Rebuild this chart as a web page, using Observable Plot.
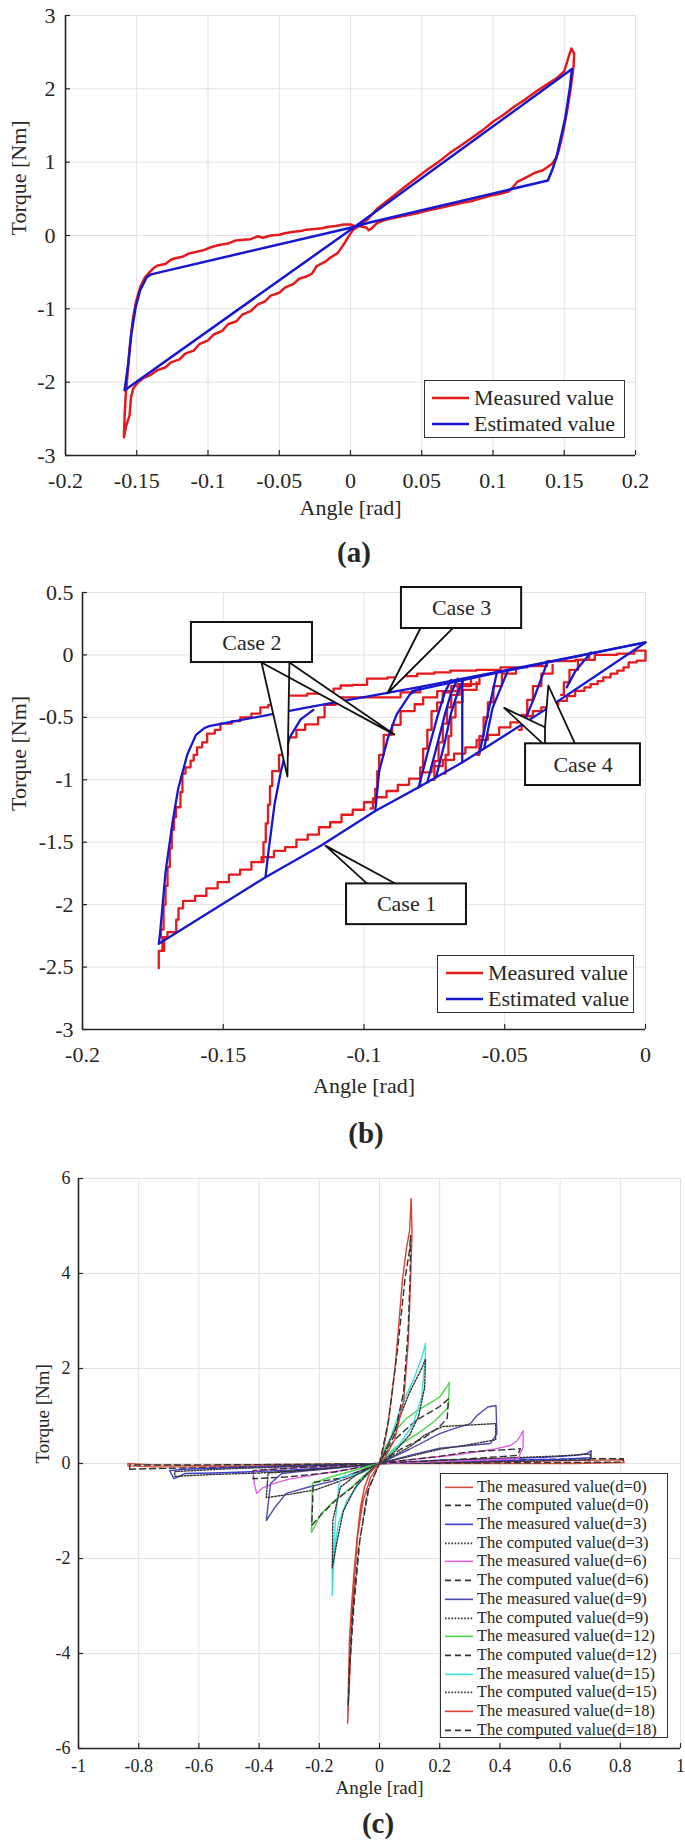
<!DOCTYPE html>
<html><head><meta charset="utf-8">
<script src="https://cdn.jsdelivr.net/npm/d3@7"></script>
<script src="https://cdn.jsdelivr.net/npm/@observablehq/plot@0.6"></script>
<style>
body{margin:0;background:#fff;}
#root{position:relative;width:685px;height:1840px;font-family:"Liberation Serif","DejaVu Serif",serif;color:#262626;overflow:hidden;}
.panel{position:absolute;left:0;}
.cap{position:absolute;font-weight:bold;font-size:29px;transform:translate(-50%,-50%);white-space:nowrap;}
.legend{position:absolute;background:#fff;border:1.6px solid #333;box-sizing:border-box;}
.row{position:absolute;left:0;white-space:nowrap;}
.row svg{position:absolute;top:0;}
.row span{position:absolute;top:0;}
</style></head><body><div id="root"></div>
<script>
// ---------------- tick values ----------------
const aXTicks = [-0.2,-0.15,-0.1,-0.05,0,0.05,0.1,0.15,0.2];
const aYTicks = [-3,-2,-1,0,1,2,3];
const bXTicks = [-0.2,-0.15,-0.1,-0.05,0];
const bYTicks = [-3,-2.5,-2,-1.5,-1,-0.5,0,0.5];
const cXTicks = [-1,-0.8,-0.6,-0.4,-0.2,0,0.2,0.4,0.6,0.8,1];
const cYTicks = [-6,-4,-2,0,2,4,6];

// ---------------- panel (a) ----------------
const aEstimated = [[-0.1585,-2.11],[-0.1560,-1.75],[-0.1538,-1.34],[-0.1508,-0.98],[-0.1477,-0.75],[-0.1430,-0.57],[-0.1400,-0.53],[0.0030,0.12],[0.1554,2.27],[0.1540,2.02],[0.1508,1.61],[0.1446,1.07],[0.1415,0.89],[0.1385,0.75],[0.0120,0.17],[0.0030,0.12],[-0.1585,-2.11]];
const aMeasured = [[-0.1590,-2.75],[-0.1585,-2.45],[-0.1578,-2.20],[-0.1565,-1.90],[-0.1548,-1.50],[-0.1528,-1.15],[-0.1505,-0.90],[-0.1475,-0.70],[-0.1445,-0.58],[-0.1410,-0.50],[-0.1380,-0.44],[-0.1354,-0.41],[-0.1300,-0.39],[-0.1260,-0.33],[-0.1230,-0.31],[-0.1180,-0.29],[-0.1140,-0.25],[-0.1077,-0.22],[-0.1030,-0.20],[-0.0980,-0.16],[-0.0923,-0.13],[-0.0860,-0.11],[-0.0810,-0.07],[-0.0770,-0.06],[-0.0700,-0.05],[-0.0650,-0.01],[-0.0615,-0.03],[-0.0560,0.00],[-0.0500,0.01],[-0.0460,0.03],[-0.0400,0.05],[-0.0350,0.06],[-0.0308,0.08],[-0.0250,0.09],[-0.0200,0.10],[-0.0154,0.12],[-0.0100,0.13],[-0.0050,0.15],[0.0000,0.15],[0.0040,0.12],[0.0080,0.17],[0.0120,0.22],[0.0185,0.36],[0.0250,0.46],[0.0308,0.55],[0.0380,0.66],[0.0460,0.78],[0.0540,0.90],[0.0615,1.00],[0.0700,1.13],[0.0770,1.22],[0.0850,1.33],[0.0923,1.43],[0.1000,1.55],[0.1077,1.65],[0.1150,1.76],[0.1230,1.86],[0.1300,1.96],[0.1385,2.07],[0.1450,2.15],[0.1500,2.24],[0.1525,2.40],[0.1550,2.55],[0.1570,2.48],[0.1565,2.30],[0.1545,2.00],[0.1520,1.70],[0.1490,1.39],[0.1460,1.15],[0.1440,1.05],[0.1415,0.98],[0.1380,0.93],[0.1350,0.89],[0.1300,0.86],[0.1260,0.82],[0.1220,0.78],[0.1170,0.73],[0.1140,0.66],[0.1110,0.60],[0.1050,0.57],[0.1000,0.55],[0.0923,0.51],[0.0850,0.47],[0.0770,0.44],[0.0700,0.41],[0.0615,0.37],[0.0540,0.34],[0.0460,0.30],[0.0380,0.27],[0.0308,0.24],[0.0240,0.21],[0.0185,0.17],[0.0150,0.10],[0.0130,0.07],[0.0110,0.11],[0.0060,0.13],[0.0020,0.08],[-0.0010,0.00],[-0.0040,-0.10],[-0.0090,-0.24],[-0.0140,-0.30],[-0.0180,-0.36],[-0.0240,-0.42],[-0.0270,-0.52],[-0.0310,-0.56],[-0.0360,-0.59],[-0.0400,-0.66],[-0.0460,-0.71],[-0.0500,-0.78],[-0.0560,-0.82],[-0.0600,-0.90],[-0.0650,-0.94],[-0.0700,-1.03],[-0.0760,-1.08],[-0.0800,-1.17],[-0.0860,-1.21],[-0.0900,-1.30],[-0.0960,-1.35],[-0.1000,-1.43],[-0.1060,-1.48],[-0.1100,-1.57],[-0.1160,-1.61],[-0.1200,-1.69],[-0.1260,-1.73],[-0.1300,-1.80],[-0.1360,-1.84],[-0.1400,-1.90],[-0.1450,-1.94],[-0.1490,-2.00],[-0.1523,-2.08],[-0.1540,-2.20],[-0.1550,-2.45],[-0.1575,-2.60],[-0.1590,-2.75]];

// ---------------- panel (b) ----------------
const bEstMain = [[-0.1729,-2.314],[-0.1724,-2.22],[-0.1705,-1.74],[-0.168,-1.34],[-0.166,-1.07],[-0.1628,-0.80],[-0.1597,-0.64],[-0.1566,-0.585],[-0.155,-0.57],[-0.12,-0.42],[-0.08,-0.256],[-0.04,-0.08],[0,0.1],[-0.0357,-0.44],[-0.065,-0.86],[-0.0806,-1.06],[-0.096,-1.25],[-0.1155,-1.53],[-0.135,-1.78],[-0.1729,-2.314]];
const bEstCase2a = [[-0.135,-1.78],[-0.1341,-1.605],[-0.1318,-1.2],[-0.1295,-0.93],[-0.1264,-0.66],[-0.1225,-0.516],[-0.118,-0.44]];
const bEstCase2b = [[-0.096,-1.25],[-0.0946,-0.93],[-0.0915,-0.664],[-0.0884,-0.476],[-0.0837,-0.315],[-0.0798,-0.26]];
const bEstTop2 = [[-0.083,-0.29],[-0.05,-0.13],[0,0.1]];
const bEstCase4a = [[-0.0806,-1.06],[-0.077,-0.75],[-0.074,-0.5],[-0.0713,-0.30],[-0.0690,-0.20]];
const bEstCase4b = [[-0.0775,-1.02],[-0.0740,-0.72],[-0.0713,-0.48],[-0.0690,-0.30],[-0.0667,-0.19]];
const bEstCase4c = [[-0.0744,-0.98],[-0.0713,-0.70],[-0.0690,-0.46],[-0.0667,-0.30],[-0.0645,-0.19]];
const bEstCase4d = [[-0.0651,-0.86],[-0.0651,-0.20]];
const bEstCase4e = [[-0.0589,-0.78],[-0.0558,-0.45],[-0.0527,-0.13]];
const bEstCase4f = [[-0.0573,-0.745],[-0.0543,-0.422],[-0.0488,-0.12]];
const bEstCase4g = [[-0.0434,-0.556],[-0.0395,-0.34],[-0.0349,-0.06]];
const bEstCase4h = [[-0.028,-0.26],[-0.0248,-0.126],[-0.0194,0.02]];

const bMeasMain = [[-0.1729,-2.51],[-0.1729,-2.37],[-0.1716,-2.37],[-0.1716,-2.26],[-0.1722,-2.2],[-0.1712,-2.0],[-0.1705,-1.85],[-0.1698,-1.70],[-0.1690,-1.55],[-0.1683,-1.40],[-0.1675,-1.30],[-0.1668,-1.22],[-0.1652,-1.10],[-0.1645,-0.95],[-0.1634,-0.90],[-0.1616,-0.846],[-0.1605,-0.80],[-0.1593,-0.74],[-0.1575,-0.70],[-0.1557,-0.63],[-0.1530,-0.60],[-0.1510,-0.55],[-0.1470,-0.53],[-0.1439,-0.50],[-0.1400,-0.47],[-0.1368,-0.42],[-0.1340,-0.40],[-0.1320,-0.366],[-0.1290,-0.35],[-0.1273,-0.326],[-0.1202,-0.31],[-0.1150,-0.30],[-0.1108,-0.27],[-0.1083,-0.245],[-0.1040,-0.24],[-0.0989,-0.19],[-0.0917,-0.18],[-0.0860,-0.17],[-0.0811,-0.15],[-0.0750,-0.14],[-0.0693,-0.125],[-0.0600,-0.12],[-0.0515,-0.10],[-0.0420,-0.09],[-0.0350,-0.05],[-0.0250,-0.04],[-0.0180,0.0],[-0.0100,0.01],[-0.0040,0.035],[0,0.035],[0,-0.046],[-0.0031,-0.06],[-0.0060,-0.10],[-0.0078,-0.126],[-0.0100,-0.15],[-0.0124,-0.18],[-0.0150,-0.21],[-0.0170,-0.234],[-0.0195,-0.26],[-0.0217,-0.288],[-0.0250,-0.33],[-0.0279,-0.368],[-0.0310,-0.40],[-0.0340,-0.42],[-0.0370,-0.45],[-0.0400,-0.49],[-0.0440,-0.54],[-0.0480,-0.58],[-0.0520,-0.64],[-0.0560,-0.68],[-0.0600,-0.74],[-0.0640,-0.79],[-0.0680,-0.84],[-0.0720,-0.89],[-0.0760,-0.94],[-0.0800,-0.99],[-0.0840,-1.04],[-0.0880,-1.09],[-0.0920,-1.14],[-0.0960,-1.18],[-0.1000,-1.24],[-0.1040,-1.28],[-0.1080,-1.34],[-0.1120,-1.38],[-0.1160,-1.44],[-0.1200,-1.48],[-0.1240,-1.54],[-0.1280,-1.57],[-0.1320,-1.62],[-0.1364,-1.66],[-0.1400,-1.72],[-0.1440,-1.76],[-0.1480,-1.82],[-0.1520,-1.87],[-0.1560,-1.93],[-0.1600,-1.97],[-0.1643,-2.03],[-0.1659,-2.12],[-0.1667,-2.22],[-0.1698,-2.26],[-0.1710,-2.37],[-0.1729,-2.51]];
const bMeasCase2a = [[-0.1364,-1.66],[-0.1357,-1.50],[-0.1349,-1.35],[-0.1341,-1.2],[-0.1334,-1.05],[-0.1326,-0.93],[-0.1302,-0.80],[-0.1270,-0.66],[-0.1240,-0.60],[-0.1209,-0.556],[-0.1163,-0.50],[-0.1140,-0.40],[-0.1100,-0.34],[-0.1002,-0.34],[-0.0870,-0.30],[-0.0800,-0.27]];
const bMeasCase2b = [[-0.0977,-1.23],[-0.0968,-1.15],[-0.0960,-1.07],[-0.0953,-0.93],[-0.0946,-0.80],[-0.0930,-0.64],[-0.0900,-0.56],[-0.0870,-0.45],[-0.0820,-0.395],[-0.0790,-0.34],[-0.0740,-0.29],[-0.0667,-0.234],[-0.0590,-0.19]];
const bMeasCase4a = [[-0.0806,-1.05],[-0.0800,-0.90],[-0.0790,-0.75],[-0.0775,-0.60],[-0.0760,-0.45],[-0.0740,-0.38],[-0.0720,-0.30],[-0.0690,-0.25],[-0.0650,-0.20]];
const bMeasCase4b = [[-0.0760,-1.00],[-0.0750,-0.85],[-0.0735,-0.70],[-0.0720,-0.55],[-0.0705,-0.42],[-0.0690,-0.32],[-0.0660,-0.25],[-0.0620,-0.20]];
const bMeasCase4c = [[-0.0720,-0.95],[-0.0710,-0.80],[-0.0700,-0.65],[-0.0690,-0.50],[-0.0675,-0.38],[-0.0650,-0.28],[-0.0600,-0.22]];
const bMeasCase4d = [[-0.0600,-0.80],[-0.0590,-0.65],[-0.0575,-0.50],[-0.0560,-0.38],[-0.0540,-0.25],[-0.0510,-0.15],[-0.0460,-0.12]];
const bMeasCase4e = [[-0.0450,-0.60],[-0.0440,-0.48],[-0.0420,-0.36],[-0.0400,-0.25],[-0.0370,-0.15],[-0.0330,-0.08]];
const bMeasCase4f = [[-0.0300,-0.32],[-0.0290,-0.22],[-0.0270,-0.12],[-0.0240,-0.04],[-0.0200,0.0]];

// annotation callouts (data units)
const caseLabels = ["Case 1","Case 2","Case 3","Case 4"];
const caseBoxX1 = [-0.1062,-0.1613,-0.0867,-0.0426];
const caseBoxX2 = [-0.0636,-0.1183,-0.0440,-0.0018];
const caseBoxY1 = [-2.16,-0.0609,0.2115,-1.046];
const caseBoxY2 = [-1.834,0.2596,0.54,-0.712];
const casePointers = {
  c1: [[-0.0988,-1.834],[-0.1137,-1.527],[-0.0886,-1.834]],
  c2a: [[-0.1364,-0.0609],[-0.1272,-0.974],[-0.1265,-0.0609]],
  c2b: [[-0.1364,-0.0609],[-0.0892,-0.638],[-0.1265,-0.0609]],
  c3: [[-0.0800,0.2115],[-0.0917,-0.309],[-0.0686,0.2115]],
  c4a: [[-0.0357,-0.726],[-0.0502,-0.424],[-0.0357,-0.579],[-0.0357,-0.726]],
  c4b: [[-0.0357,-0.579],[-0.0345,-0.245],[-0.0250,-0.712]]
};

// ---------------- panel (c) ----------------
const c_m0 = [[-0.836,0.0],[-0.75,-0.03],[-0.6,-0.04],[-0.45,-0.03],[-0.3,-0.02],[-0.15,-0.01],[0,0],[0.15,0.02],[0.3,0.03],[0.5,0.05],[0.65,0.06],[0.81,0.08],[0.813,0.02],[0.65,0.0],[0.45,0.0],[0.25,0.0],[0,0],[-0.2,-0.04],[-0.4,-0.06],[-0.6,-0.07],[-0.75,-0.07],[-0.836,-0.05],[-0.836,0.0]];
const c_c0 = [[-0.83,-0.12],[-0.7,-0.1],[-0.5,-0.08],[-0.3,-0.05],[0,0],[0.3,0.05],[0.5,0.08],[0.7,0.1],[0.81,0.1],[0.81,0.03],[0.6,0.02],[0.3,0.01],[0,0],[-0.3,-0.02],[-0.6,-0.03],[-0.83,-0.03],[-0.83,-0.12]];
const c_m3 = [[0,0],[0.2,0.07],[0.4,0.1],[0.55,0.13],[0.65,0.17],[0.69,0.21],[0.703,0.27],[0.703,0.12],[0.6,0.09],[0.4,0.06],[0.2,0.03],[0,0],[-0.2,-0.04],[-0.4,-0.07],[-0.55,-0.1],[-0.65,-0.12],[-0.697,-0.15],[-0.683,-0.32],[-0.665,-0.27],[-0.646,-0.21],[-0.55,-0.2],[-0.45,-0.18],[-0.3,-0.14],[-0.15,-0.08],[0,0]];
const c_c3 = [[0,0],[0.2,0.06],[0.4,0.11],[0.6,0.16],[0.7,0.2],[0.7,0.08],[0.5,0.05],[0.25,0.02],[0,0],[-0.25,-0.06],[-0.5,-0.11],[-0.68,-0.17],[-0.68,-0.27],[-0.55,-0.23],[-0.4,-0.2],[-0.2,-0.12],[0,0]];
const c_m6 = [[0,0],[0.1,0.08],[0.25,0.18],[0.38,0.3],[0.435,0.38],[0.457,0.48],[0.468,0.58],[0.477,0.69],[0.477,0.34],[0.46,0.1],[0.3,0.06],[0.15,0.03],[0,0],[-0.15,-0.06],[-0.3,-0.1],[-0.4,-0.14],[-0.42,-0.18],[-0.415,-0.45],[-0.408,-0.63],[-0.39,-0.52],[-0.35,-0.42],[-0.3,-0.33],[-0.2,-0.22],[-0.1,-0.12],[0,0]];
const c_c6 = [[0,0],[0.1,0.08],[0.2,0.15],[0.29,0.24],[0.468,0.31],[0.462,0.22],[0.457,0.17],[0.3,0.1],[0.15,0.05],[0,0],[-0.15,-0.18],[-0.3,-0.28],[-0.42,-0.32],[-0.42,-0.15],[-0.3,-0.1],[-0.15,-0.05],[0,0]];
const c_m9 = [[0,0],[0.05,0.15],[0.1,0.3],[0.2,0.63],[0.25,0.74],[0.302,0.84],[0.324,1.01],[0.36,1.19],[0.387,1.22],[0.39,0.63],[0.368,0.42],[0.3,0.38],[0.2,0.32],[0.1,0.17],[0,0],[-0.063,-0.05],[-0.15,-0.1],[-0.25,-0.16],[-0.325,-0.21],[-0.362,-0.42],[-0.376,-1.2],[-0.347,-0.92],[-0.31,-0.63],[-0.238,-0.5],[-0.15,-0.36],[-0.063,-0.15],[0,0]];
const c_c9 = [[0,0],[0.1,0.35],[0.15,0.6],[0.21,0.78],[0.3,0.81],[0.386,0.84],[0.386,0.5],[0.3,0.4],[0.2,0.3],[0.1,0.15],[0,0],[-0.1,-0.06],[-0.2,-0.12],[-0.3,-0.17],[-0.37,-0.2],[-0.376,-0.72],[-0.3,-0.65],[-0.21,-0.55],[-0.1,-0.3],[0,0]];
const c_m12 = [[0,0],[0.02,0.35],[0.053,0.7],[0.09,0.95],[0.127,1.12],[0.17,1.28],[0.2,1.4],[0.222,1.6],[0.232,1.71],[0.229,1.19],[0.185,0.9],[0.127,0.63],[0.053,0.34],[0,0],[-0.06,-0.1],[-0.121,-0.21],[-0.17,-0.3],[-0.209,-0.39],[-0.223,-0.42],[-0.226,-1.45],[-0.194,-1.06],[-0.15,-0.78],[-0.093,-0.5],[-0.033,-0.15],[0,0]];
const c_c12 = [[0,0],[0.05,0.5],[0.12,0.9],[0.2,1.2],[0.229,1.36],[0.225,0.95],[0.2,0.78],[0.15,0.55],[0.07,0.3],[0,0],[-0.12,-0.3],[-0.22,-0.4],[-0.225,-1.3],[-0.19,-1.05],[-0.15,-0.8],[-0.09,-0.5],[-0.03,-0.15],[0,0]];
const c_m15 = [[0,0],[0.02,0.3],[0.04,0.6],[0.068,1.12],[0.09,1.45],[0.112,1.75],[0.141,2.24],[0.153,2.53],[0.152,2.2],[0.14,1.4],[0.11,0.8],[0.06,0.35],[0,0],[-0.06,-0.2],[-0.13,-0.29],[-0.136,-0.5],[-0.145,-1.1],[-0.15,-1.6],[-0.157,-2.18],[-0.157,-2.78],[-0.153,-2.2],[-0.145,-1.6],[-0.136,-1.26],[-0.11,-0.8],[-0.06,-0.35],[0,0]];
const c_c15 = [[0,0],[0.05,0.7],[0.1,1.5],[0.14,2.0],[0.153,2.2],[0.15,1.6],[0.13,1.0],[0.1,0.6],[0.05,0.25],[0,0],[-0.08,-0.25],[-0.13,-0.5],[-0.155,-1.2],[-0.157,-2.2],[-0.14,-1.6],[-0.12,-1.0],[-0.08,-0.5],[-0.03,-0.15],[0,0]];
const c_m18 = [[0,0],[0.012,0.3],[0.025,0.7],[0.04,1.4],[0.053,2.1],[0.065,3.0],[0.076,3.85],[0.09,4.55],[0.1,4.9],[0.105,5.58],[0.108,4.9],[0.105,4.2],[0.1,3.3],[0.095,2.5],[0.08,1.3],[0.05,0.5],[0.02,0.15],[0,0],[-0.015,-0.08],[-0.033,-0.21],[-0.05,-0.5],[-0.063,-0.92],[-0.075,-1.6],[-0.085,-2.32],[-0.093,-3.0],[-0.1,-3.72],[-0.103,-4.6],[-0.106,-5.47],[-0.1,-4.6],[-0.092,-3.4],[-0.082,-2.3],[-0.072,-1.5],[-0.055,-0.8],[-0.03,-0.3],[0,0]];
const c_c18 = [[0,0],[0.03,0.9],[0.06,2.4],[0.085,3.9],[0.1,4.5],[0.103,4.8],[0.102,4.0],[0.095,2.8],[0.08,1.5],[0.05,0.6],[0,0],[-0.04,-0.6],[-0.07,-1.8],[-0.09,-3.2],[-0.1,-4.3],[-0.104,-5.1],[-0.098,-4.2],[-0.085,-3.0],[-0.065,-1.6],[-0.035,-0.5],[0,0]];

const cNames = ["The measured value(d=0)","The computed value(d=0)","The measured value(d=3)","The computed value(d=3)","The measured value(d=6)","The computed value(d=6)","The measured value(d=9)","The computed value(d=9)","The measured value(d=12)","The computed value(d=12)","The measured value(d=15)","The computed value(d=15)","The measured value(d=18)","The computed value(d=18)"];
const cData = [c_m0,c_c0,c_m3,c_c3,c_m6,c_c6,c_m9,c_c9,c_m12,c_c12,c_m15,c_c15,c_m18,c_c18];

// ---------------- styles ----------------
const FONT = '"Liberation Serif","DejaVu Serif",serif';
const INK = "#262626";
const GRID = "#e2e2e2";
const RED = "#e41a1c";
const BLUE = "#1717d2";
const DARK = "#333333";
const cStyles = [
  {stroke:"#d4503c", dash:null},{stroke:DARK, dash:"6,4"},
  {stroke:"#3c3cd4", dash:null},{stroke:DARK, dash:"1.6,1.6"},
  {stroke:"#e060e0", dash:null},{stroke:DARK, dash:"6,4"},
  {stroke:"#4c4cb0", dash:null},{stroke:DARK, dash:"1.6,1.6"},
  {stroke:"#4cd84c", dash:null},{stroke:DARK, dash:"6,4"},
  {stroke:"#40e0e0", dash:null},{stroke:DARK, dash:"1.6,1.6"},
  {stroke:"#dc4034", dash:null},{stroke:DARK, dash:"6,4"}
];

const fmt = d => String(Math.round(d*100)/100);
const pts = (arr, k) => arr.map(([x,y]) => ({x, y, k}));

function axisMarks(p) {
  return [
    Plot.ruleX([p.xTicks[0]], {stroke: INK, strokeWidth: 1.6}),
    Plot.ruleY([p.yTicks[0]], {stroke: INK, strokeWidth: 1.6}),
    Plot.tickX(p.xTicks, {x: d => d, insetTop: p.fh - 5, stroke: INK, strokeWidth: 1.2}),
    Plot.tickY(p.yTicks, {y: d => d, insetRight: p.fw - 5, stroke: INK, strokeWidth: 1.2}),
    Plot.axisX({ticks: p.xTicks, tickSize: 0, tickPadding: p.xPad, tickFormat: fmt, label: null, fill: INK}),
    Plot.axisY({ticks: p.yTicks, tickSize: 0, tickPadding: p.yPad, tickFormat: fmt, label: null, fill: INK}),
    Plot.text([p.xLabel], {text: d => d, frameAnchor: "bottom", dy: p.xLabelDy, lineAnchor: "middle", fill: INK, fontSize: p.labelSize}),
    Plot.text([p.yLabel], {text: d => d, frameAnchor: "left", dx: p.yLabelDx, rotate: -90, lineAnchor: "middle", fill: INK, fontSize: p.labelSize})
  ];
}
function gridMarks(p) {
  return [
    Plot.gridX(p.xTicks, {stroke: GRID, strokeOpacity: 1, strokeWidth: 1}),
    Plot.gridY(p.yTicks, {stroke: GRID, strokeOpacity: 1, strokeWidth: 1})
  ];
}

const root = document.getElementById("root");
function place(el, top) { el.classList.add("panel"); el.style.top = top + "px"; root.appendChild(el); }
function caption(txt, cx, cy) { const d = document.createElement("div"); d.className = "cap"; d.textContent = txt; d.style.left = cx + "px"; d.style.top = cy + "px"; root.appendChild(d); }
function legend(box, entries) {
  const L = document.createElement("div"); L.className = "legend";
  Object.assign(L.style, {left: box.left + "px", top: box.top + "px", width: box.w + "px", height: box.h + "px", fontSize: box.fs + "px"});
  entries.forEach((e, i) => {
    const r = document.createElement("div"); r.className = "row";
    const cy = box.first + i * box.step;
    r.style.top = (cy - box.rh / 2) + "px"; r.style.height = box.rh + "px"; r.style.width = "100%";
    const ns = "http://www.w3.org/2000/svg";
    const s = document.createElementNS(ns, "svg");
    s.setAttribute("width", box.l2 + 2); s.setAttribute("height", box.rh);
    const ln = document.createElementNS(ns, "line");
    ln.setAttribute("x1", box.l1); ln.setAttribute("x2", box.l2); ln.setAttribute("y1", box.rh / 2); ln.setAttribute("y2", box.rh / 2);
    ln.setAttribute("stroke", e.stroke); ln.setAttribute("stroke-width", e.sw);
    if (e.dash) ln.setAttribute("stroke-dasharray", e.dash);
    s.appendChild(ln); r.appendChild(s);
    const t = document.createElement("span"); t.textContent = e.label;
    t.style.left = box.tx + "px"; t.style.lineHeight = box.rh + "px";
    r.appendChild(t); L.appendChild(r);
  });
  root.appendChild(L);
}

// ---------------- draw (a) ----------------
const pa = {xTicks: aXTicks, yTicks: aYTicks, fw: 570, fh: 440, xPad: 17, yPad: 10, xLabel: "Angle [rad]", yLabel: "Torque [Nm]", xLabelDy: 52, yLabelDx: -47, labelSize: 22};
place(Plot.plot({
  width: 685, height: 530, marginLeft: 65, marginRight: 50, marginTop: 15, marginBottom: 75,
  x: {domain: [-0.2, 0.2]}, y: {domain: [-3, 3]},
  style: {fontFamily: FONT, fontSize: "22px", background: "transparent", overflow: "visible", color: INK},
  marks: [
    ...gridMarks(pa),
    Plot.line(pts(aMeasured, "m"), {x: "x", y: "y", stroke: RED, strokeWidth: 2.5}),
    Plot.line(pts(aEstimated, "e"), {x: "x", y: "y", stroke: BLUE, strokeWidth: 2.5}),
    ...axisMarks(pa)
  ]
}), 0);
legend({left: 424, top: 380, w: 201, h: 58, fs: 22, first: 17, step: 26, rh: 26, l1: 7, l2: 44, tx: 49},
  [{label: "Measured value", stroke: RED, sw: 2.5}, {label: "Estimated value", stroke: BLUE, sw: 2.5}]);
caption("(a)", 354, 552);

// ---------------- draw (b) ----------------
const pb = {xTicks: bXTicks, yTicks: bYTicks, fw: 563, fh: 437, xPad: 17, yPad: 9, xLabel: "Angle [rad]", yLabel: "Torque [Nm]", xLabelDy: 56, yLabelDx: -64, labelSize: 22};
const bEstGroups = {main: bEstMain, c2a: bEstCase2a, c2b: bEstCase2b, top2: bEstTop2, c4a: bEstCase4a, c4b: bEstCase4b, c4c: bEstCase4c, c4d: bEstCase4d, c4e: bEstCase4e, c4f: bEstCase4f, c4g: bEstCase4g, c4h: bEstCase4h};
const bMeasGroups = {main: bMeasMain, c2a: bMeasCase2a, c2b: bMeasCase2b, c4a: bMeasCase4a, c4b: bMeasCase4b, c4c: bMeasCase4c, c4d: bMeasCase4d, c4e: bMeasCase4e, c4f: bMeasCase4f};
const bEstRows = Object.entries(bEstGroups).flatMap(([k, a]) => pts(a, k));
const bMeasRows = Object.entries(bMeasGroups).flatMap(([k, a]) => pts(a, k));
const pointerRows = Object.entries(casePointers).flatMap(([k, a]) => pts(a, k));
const caseBoxes = caseLabels.map((label, i) => ({label, x1: caseBoxX1[i], x2: caseBoxX2[i], y1: caseBoxY1[i], y2: caseBoxY2[i]}));
place(Plot.plot({
  width: 685, height: 550, marginLeft: 82, marginRight: 40, marginTop: 32, marginBottom: 81,
  x: {domain: [-0.2, 0]}, y: {domain: [-3, 0.5]},
  style: {fontFamily: FONT, fontSize: "22px", background: "transparent", overflow: "visible", color: INK},
  marks: [
    ...gridMarks(pb),
    Plot.line(bMeasRows, {x: "x", y: "y", z: "k", stroke: RED, strokeWidth: 2.3, curve: "step-after"}),
    Plot.line(bEstRows, {x: "x", y: "y", z: "k", stroke: BLUE, strokeWidth: 2.3}),
    ...axisMarks(pb),
    Plot.line(pointerRows, {x: "x", y: "y", z: "k", fill: "white", stroke: "none"}),
    Plot.line(pointerRows, {x: "x", y: "y", z: "k", fill: "none", stroke: "#111", strokeWidth: 1.8}),
    Plot.rect(caseBoxes, {x1: "x1", x2: "x2", y1: "y1", y2: "y2", fill: "white", stroke: "#111", strokeWidth: 2}),
    Plot.text(caseBoxes, {x: d => (d.x1 + d.x2) / 2, y: d => (d.y1 + d.y2) / 2, text: "label", fontSize: 22, fill: INK})
  ]
}), 560);
legend({left: 437, top: 955, w: 197, h: 58, fs: 22, first: 17, step: 26, rh: 26, l1: 8, l2: 45, tx: 50},
  [{label: "Measured value", stroke: RED, sw: 2.5}, {label: "Estimated value", stroke: BLUE, sw: 2.5}]);
caption("(b)", 366, 1133);

// ---------------- draw (c) ----------------
const pc = {xTicks: cXTicks, yTicks: cYTicks, fw: 602, fh: 570, xPad: 11, yPad: 8, xLabel: "Angle [rad]", yLabel: "Torque [Nm]", xLabelDy: 39, yLabelDx: -36, labelSize: 19};
place(Plot.plot({
  width: 685, height: 650, marginLeft: 78, marginRight: 5, marginTop: 28, marginBottom: 52,
  x: {domain: [-1, 1]}, y: {domain: [-6, 6]},
  style: {fontFamily: FONT, fontSize: "18px", background: "transparent", overflow: "visible", color: INK},
  marks: [
    ...gridMarks(pc),
    ...cData.map((arr, i) => Plot.line(pts(arr, cNames[i]), {x: "x", y: "y", stroke: cStyles[i].stroke, strokeWidth: 1.4, strokeDasharray: cStyles[i].dash || undefined})),
    ...axisMarks(pc)
  ]
}), 1150);
legend({left: 440, top: 1473, w: 228, h: 265, fs: 16.5, first: 13, step: 18.7, rh: 18.7, l1: 4, l2: 32, tx: 36},
  cNames.map((label, i) => ({label, stroke: cStyles[i].stroke, sw: 1.6, dash: cStyles[i].dash})));
caption("(c)", 378, 1823);
</script></body></html>
